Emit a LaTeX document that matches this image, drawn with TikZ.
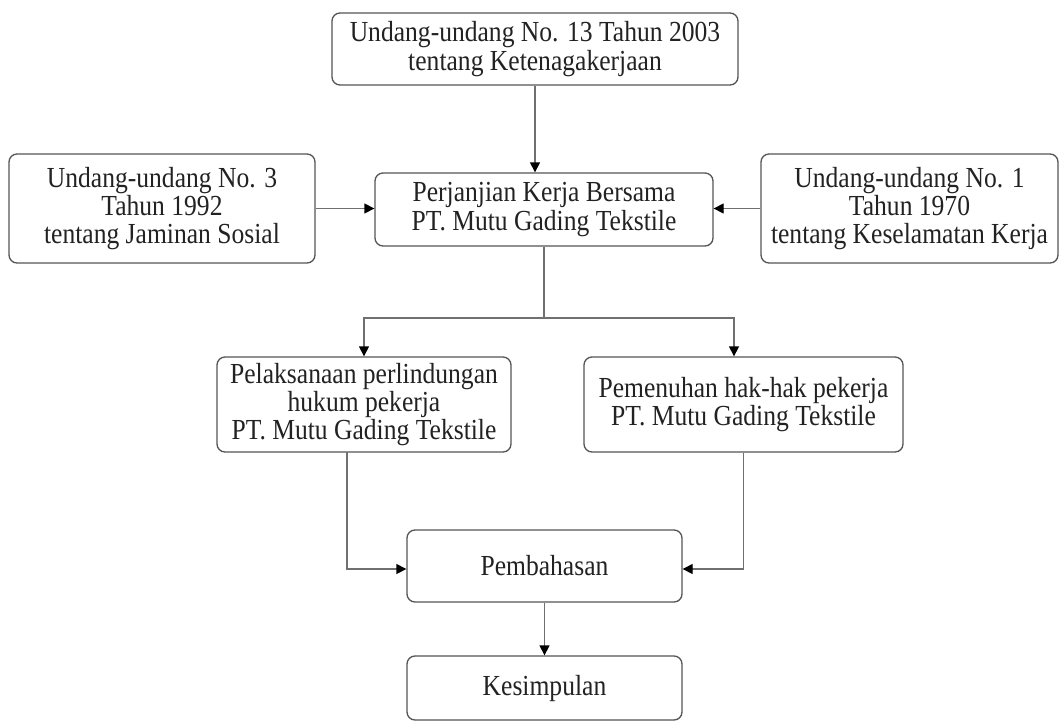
\documentclass[tikz,border=0pt]{standalone}
\usepackage{fontspec}
\setmainfont[FakeStretch=0.88]{Liberation Serif}
\usetikzlibrary{arrows.meta}
\definecolor{txt}{HTML}{222222}
\definecolor{bord}{HTML}{555555}
\definecolor{conn}{HTML}{707070}
\begin{document}
\begin{tikzpicture}[x=0.75pt,y=-0.75pt,
  box/.style={draw=bord, line width=1pt, rounded corners=6pt, inner sep=0pt, align=center,
    text=txt, font=\fontsize{21.8}{21.3}\selectfont},
  conn/.style={draw=conn, line width=1pt},
  arr/.style={conn, -{Triangle[length=7.5pt,width=7.5pt,fill=black,color=black]}}]
\useasboundingbox (0,0) rectangle (1060,725);
\fill[white] (0,0) rectangle (1060,725);

\node[box, minimum width=304.5pt, minimum height=54pt] (top) at (535,49)
  {Undang-undang No. 13 Tahun 2003\\tentang Ketenagakerjaan};
\node[box, minimum width=229.5pt, minimum height=81.75pt] (left) at (162,208.5)
  {Undang-undang No. 3\\Tahun 1992\\tentang Jaminan Sosial};
\node[box, minimum width=253.5pt, minimum height=54.75pt] (mid) at (544,209.5)
  {Perjanjian Kerja Bersama\\PT. Mutu Gading Tekstile};
\node[box, minimum width=222.75pt, minimum height=81.75pt] (right) at (909.5,208.5)
  {Undang-undang No. 1\\Tahun 1970\\tentang Keselamatan Kerja};
\node[box, minimum width=220.5pt, minimum height=71.25pt] (pel) at (364,404.5)
  {Pelaksanaan perlindungan\\hukum pekerja\\PT. Mutu Gading Tekstile};
\node[box, minimum width=239.25pt, minimum height=71.25pt] (pem) at (743.5,404.5)
  {Pemenuhan hak-hak pekerja\\PT. Mutu Gading Tekstile};
\node[box, minimum width=206.25pt, minimum height=54pt] (pemb) at (544.5,566)
  {Pembahasan};
\node[box, minimum width=206.25pt, minimum height=48pt] (kes) at (544.5,688)
  {Kesimpulan};

\coordinate (split) at (544,318);
\coordinate (pelin) at (364,318);
\coordinate (pemin) at (734,318);
\coordinate (pelout) at (347,452);
\coordinate (pelturn) at (347,569);
\coordinate (pemturn) at (743.5,569);

\draw[arr] (top.south) -- (top.south |- mid.north);
\draw[arr] (left.east) -- (left.east -| mid.west);
\draw[arr] (right.west) -- (right.west -| mid.east);
\draw[conn] (mid.south) -- (split);
\draw[arr] (split) -- (pelin) -- (pelin |- pel.north);
\draw[arr] (split) -- (pemin) -- (pemin |- pem.north);
\draw[arr] (pelout) -- (pelturn) -- (pelturn -| pemb.west);
\draw[arr] (pem.south) -- (pemturn) -- (pemturn -| pemb.east);
\draw[arr] (pemb.south) -- (kes.north);
\end{tikzpicture}
\end{document}
